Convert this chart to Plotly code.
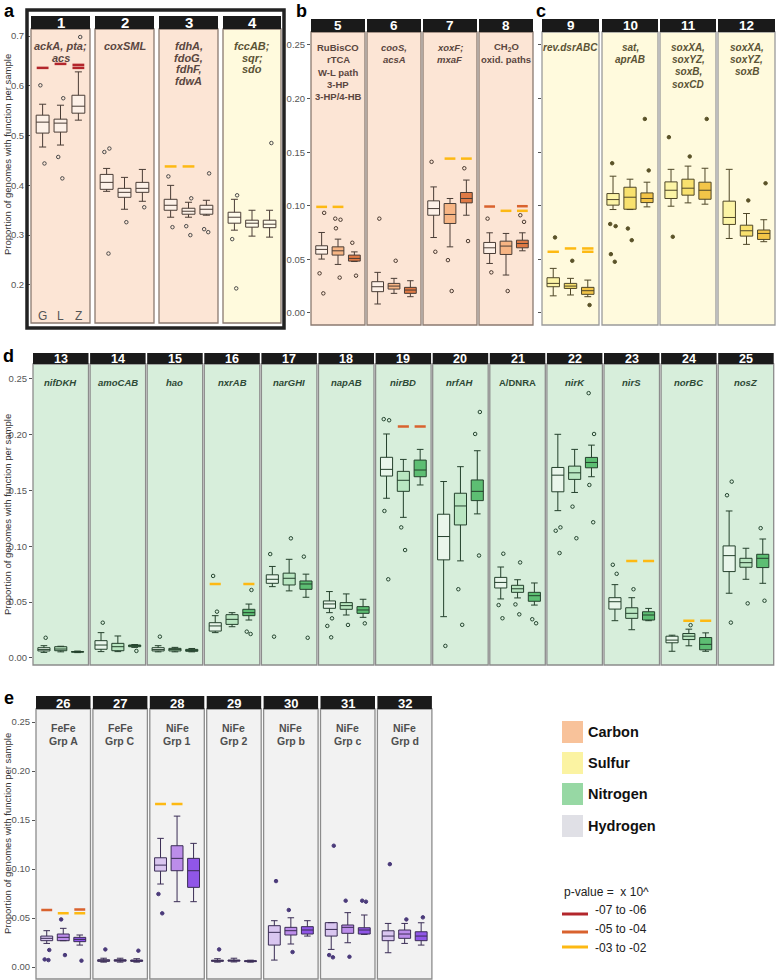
import plotly.graph_objects as go

# ------------------------------------------------------------------ data
panel_num = list(range(1, 33))
panel_label = [
    "ackA, pta;|acs", "coxSML", "fdhA,|fdoG,|fdhF,|fdwA", "fccAB;|sqr;|sdo",
    "RuBisCO|rTCA|W-L path|3-HP|3-HP/4-HB", "cooS,|acsA", "xoxF;|mxaF", "CH<sub>2</sub>O|oxid. paths",
    "rev.dsrABC", "sat,|aprAB", "soxXA,|soxYZ,|soxB,|soxCD", "soxXA,|soxYZ,|soxB",
    "nifDKH", "amoCAB", "hao", "nxrAB", "narGHI", "napAB", "nirBD", "nrfAH", "A/DNRA",
    "nirK", "nirS", "norBC", "nosZ",
    "FeFe|Grp A", "FeFe|Grp C", "NiFe|Grp 1", "NiFe|Grp 2", "NiFe|Grp b", "NiFe|Grp c", "NiFe|Grp d",
]
panel_italic = [True, True, True, True, False, True, True, False,
                True, True, True, True,
                True, True, True, True, True, True, True, True, False, True, True, True, True,
                False, False, False, False, False, False, False]
panel_cycle = (["Carbon"] * 3 + ["Sulfur"] + ["Carbon"] * 4 + ["Sulfur"] * 4
               + ["Nitrogen"] * 13 + ["Hydrogen"] * 7)
sites = ["G", "L", "Z"]

G_q1 = [0.505, 0.392, 0.350, 0.324, 0.0549, 0.0199, 0.0912, 0.0555, 0.0245, 0.1006, 0.1068, 0.0826,
        0.0063, 0.0078, 0.0063, 0.0241, 0.0669, 0.0445, 0.163, 0.0879, 0.0627, 0.1489, 0.0438, 0.0136, 0.0774,
        0.0269, 0.0058, 0.0979, 0.0058, 0.0224, 0.0316, 0.0269]
G_med = [0.527, 0.406, 0.360, 0.336, 0.0593, 0.0245, 0.0974, 0.0608, 0.0276, 0.1058, 0.1145, 0.0891,
         0.0075, 0.0116, 0.0075, 0.0287, 0.0705, 0.0484, 0.169, 0.1088, 0.0677, 0.1638, 0.0504, 0.016, 0.0917,
         0.0293, 0.0065, 0.104, 0.0065, 0.0354, 0.0384, 0.0316]
G_q3 = [0.541, 0.422, 0.372, 0.346, 0.0627, 0.0292, 0.1046, 0.0658, 0.0329, 0.1114, 0.1223, 0.1043,
        0.0092, 0.0155, 0.0092, 0.0316, 0.0745, 0.0511, 0.1798, 0.1288, 0.0722, 0.1707, 0.054, 0.0195, 0.1004,
        0.0316, 0.0075, 0.1115, 0.007, 0.0422, 0.0453, 0.037]
G_lo = [0.477, 0.388, 0.336, 0.310, 0.0503, 0.0084, 0.0704, 0.0462, 0.016, 0.0965, 0.0996, 0.0695,
        0.005, 0.0057, 0.0055, 0.0227, 0.0639, 0.0406, 0.1431, 0.037, 0.0529, 0.132, 0.0334, 0.006, 0.058,
        0.0241, 0.005, 0.0847, 0.005, 0.0071, 0.018, 0.0146]
G_hi = [0.563, 0.434, 0.400, 0.372, 0.0751, 0.0379, 0.1176, 0.0748, 0.0416, 0.1276, 0.134, 0.134,
        0.011, 0.0227, 0.011, 0.0379, 0.082, 0.0595, 0.2007, 0.1581, 0.0815, 0.2004, 0.0657, 0.0204, 0.1317,
        0.0371, 0.009, 0.1313, 0.0085, 0.0473, 0.0453, 0.0445]

L_q1 = [0.507, 0.376, 0.342, 0.316, 0.054, 0.0223, 0.0835, 0.0546, 0.0229, 0.0968, 0.1099, 0.0717,
        0.0065, 0.0065, 0.0063, 0.0301, 0.0654, 0.0436, 0.1493, 0.1192, 0.0588, 0.16, 0.0355, 0.0165, 0.0813,
        0.0269, 0.006, 0.0983, 0.006, 0.0327, 0.0344, 0.0293]
L_med = [0.525, 0.386, 0.348, 0.324, 0.058, 0.0251, 0.0919, 0.0624, 0.0251, 0.108, 0.1164, 0.0767,
         0.008, 0.0101, 0.0075, 0.0346, 0.0714, 0.0469, 0.1592, 0.1362, 0.062, 0.1659, 0.04, 0.0195, 0.0854,
         0.0303, 0.0066, 0.1109, 0.0066, 0.0371, 0.0405, 0.0337]
L_q3 = [0.533, 0.394, 0.354, 0.330, 0.0617, 0.0276, 0.1021, 0.067, 0.0276, 0.1173, 0.1248, 0.0819,
        0.0101, 0.0131, 0.0086, 0.0388, 0.076, 0.0496, 0.1672, 0.1476, 0.0651, 0.1719, 0.045, 0.0219, 0.0893,
        0.0337, 0.0075, 0.1238, 0.0072, 0.0405, 0.0429, 0.0378]
L_lo = [0.481, 0.352, 0.336, 0.298, 0.0453, 0.0183, 0.0617, 0.0354, 0.0168, 0.0965, 0.1027, 0.064,
        0.0055, 0.0057, 0.0055, 0.028, 0.0601, 0.0385, 0.126, 0.087, 0.0538, 0.1483, 0.0253, 0.0109, 0.0705,
        0.0269, 0.005, 0.0667, 0.0052, 0.0235, 0.0248, 0.0241]
L_hi = [0.561, 0.416, 0.366, 0.350, 0.0689, 0.0323, 0.1068, 0.0742, 0.0323, 0.1248, 0.137, 0.0928,
        0.0105, 0.0197, 0.0095, 0.0406, 0.0884, 0.0574, 0.1779, 0.1714, 0.0701, 0.1869, 0.054, 0.0258, 0.0983,
        0.0395, 0.009, 0.154, 0.009, 0.0503, 0.0555, 0.0445]

Z_q1 = [0.545, 0.386, 0.342, 0.315, 0.0484, 0.0183, 0.1027, 0.0608, 0.0174, 0.103, 0.1061, 0.0686,
        0.0052, 0.0101, 0.006, 0.0379, 0.0615, 0.04, 0.1624, 0.141, 0.0508, 0.1704, 0.034, 0.0073, 0.081,
        0.0259, 0.0058, 0.0813, 0.0055, 0.0337, 0.0337, 0.0269]
Z_med = [0.559, 0.394, 0.352, 0.322, 0.0509, 0.0214, 0.1068, 0.0648, 0.0208, 0.1068, 0.1145, 0.0742,
         0.0055, 0.011, 0.0068, 0.0406, 0.0663, 0.043, 0.1684, 0.1493, 0.0558, 0.1752, 0.0385, 0.0122, 0.0893,
         0.0282, 0.0064, 0.0983, 0.006, 0.0378, 0.0378, 0.0316]
Z_q3 = [0.581, 0.406, 0.360, 0.330, 0.054, 0.0239, 0.1124, 0.0679, 0.0239, 0.112, 0.122, 0.0774,
        0.0058, 0.0116, 0.0077, 0.0436, 0.069, 0.046, 0.1773, 0.1595, 0.0588, 0.1797, 0.0414, 0.0183, 0.0929,
        0.0303, 0.0072, 0.1109, 0.0065, 0.0412, 0.0401, 0.036]
Z_lo = [0.531, 0.368, 0.340, 0.296, 0.048, 0.0152, 0.0912, 0.058, 0.0152, 0.099, 0.1015, 0.0665,
        0.0048, 0.0095, 0.0055, 0.034, 0.0544, 0.0364, 0.155, 0.1291, 0.0474, 0.1624, 0.0334, 0.006, 0.0669,
        0.0224, 0.005, 0.0667, 0.005, 0.0316, 0.0333, 0.0224]
Z_hi = [0.628, 0.432, 0.370, 0.350, 0.057, 0.0301, 0.124, 0.0748, 0.0307, 0.122, 0.135, 0.087,
        0.0062, 0.012, 0.0085, 0.0483, 0.0751, 0.0526, 0.1869, 0.1857, 0.0672, 0.1907, 0.0444, 0.0225, 0.1066,
        0.0327, 0.0085, 0.1262, 0.007, 0.0473, 0.0531, 0.0452]

G_out = [[0.601, 0.444], [0.467, 0.474, 0.263], [0.418, 0.316], [0.380, 0.292, 0.193],
         [0.0934, 0.037, 0.0183], [0.088], [0.141, 0.0571], [0.088, 0.0379],
         [0.0705], [0.1397, 0.083, 0.081, 0.0549, 0.0478], [0.164, 0.0711], [],
         [0.0181], [0.0316], [0.0191], [0.0735, 0.0415], [0.0931, 0.0191], [0.0355, 0.0287, 0.0185],
         [0.214, 0.213, 0.1317, 0.0705], [0.0108], [0.0934, 0.0474, 0.0356], [0.117, 0.114, 0.094],
         [0.0835, 0.0754], [], [0.158, 0.1458, 0.0317],
         [0.0174, 0.0078, 0.0071], [0.018], [0.0745, 0.0548], [0.018], [0.0877], [0.1238, 0.0122, 0.0099], [0.105]]
L_out = [[0.575, 0.457, 0.414], [0.326], [0.374, 0.318, 0.300], [],
         [0.088, 0.087, 0.079, 0.033], [0.0487], [0.0493, 0.0205], [0.0205],
         [0.0487], [0.0788, 0.0679], [0.146], [0.105],
         [], [], [], [], [0.1072], [0.0296],
         [0.117, 0.0967], [0.0616, 0.0297], [0.0856, 0.048, 0.0391], [0.1356, 0.1073],
         [0.0616], [0.0294], [0.0489],
         [0.0486, 0.0122], [], [], [], [0.0582, 0.0153], [0.0677, 0.0105], [0.0486]]
Z_out = [[0.698], [0.356], [0.424, 0.312, 0.306], [0.485],
         [0.0655, 0.0348], [], [0.135, 0.0671], [0.0912, 0.085],
         [0.0074], [0.181, 0.133], [0.181], [0.121],
         [], [0.0063], [], [0.0609, 0.0236, 0.0215], [0.0908, 0.0181], [0.031],
         [], [0.2204, 0.2007, 0.0918], [0.0347, 0.0311], [0.2373, 0.2007, 0.155, 0.1216],
         [], [], [0.1163, 0.0513],
         [0.0065], [0.0167], [], [], [], [0.0677, 0.0667], [0.0507]]

# significance bars (panel, site, value, p-value class)
sig_panel = [1, 1, 1, 1, 3, 3, 5, 5, 7, 7, 8, 8, 8, 8, 9, 9, 9, 9,
             16, 16, 19, 19, 23, 23, 24, 24, 26, 26, 26, 26, 28, 28]
sig_site = ["G", "L", "Z", "Z", "G", "L", "G", "L", "L", "Z", "G", "L", "Z", "Z", "G", "L", "Z", "Z",
            "G", "Z", "L", "Z", "L", "Z", "L", "Z", "G", "L", "Z", "Z", "G", "L"]
sig_value = [0.636, 0.644, 0.642, 0.636, 0.438, 0.438, 0.099, 0.099, 0.144, 0.144,
             0.0993, 0.0953, 0.0996, 0.0953, 0.0571, 0.0602, 0.0602, 0.0571,
             0.0663, 0.0663, 0.2073, 0.2073, 0.0869, 0.0869, 0.0334, 0.0334,
             0.0582, 0.0548, 0.0588, 0.0548, 0.1663, 0.1663]
sig_level = ["-07 to -06"] * 4 + ["-03 to -02"] * 6 + ["-05 to -04", "-03 to -02", "-05 to -04", "-03 to -02"] \
    + ["-03 to -02"] * 6 + ["-05 to -04"] * 2 + ["-03 to -02"] * 4 \
    + ["-05 to -04", "-03 to -02", "-05 to -04", "-03 to -02"] + ["-03 to -02"] * 2
p_levels = ["-07 to -06", "-05 to -04", "-03 to -02"]
cycles = ["Carbon", "Sulfur", "Nitrogen", "Hydrogen"]

# ------------------------------------------------------------------ styles
W, H = 777, 980
FONT = "Liberation Sans, Arial, sans-serif"
def fx(x): return x / W
def fy(y): return 1 - y / H

p_colors = {"-07 to -06": "#B3262C", "-05 to -04": "#D9622E", "-03 to -02": "#FDB913"}
bg_colors = {"Carbon": "#FCE5D5", "Sulfur": "#FFFADD", "Nitrogen": "#D7EEDB", "Hydrogen": "#F2F2F2"}
swatch = {"Carbon": "#F8C29A", "Sulfur": "#FBF3A2", "Nitrogen": "#97D8A4", "Hydrogen": "#E0E0E6"}
label_col = {"Carbon": "#5a4640", "Sulfur": "#5b5335", "Nitrogen": "#2e4a36", "Hydrogen": "#4f4f4f"}

geom = []  # x0, x1, ytop, ybot, striptop, row
for a, b in [(31, 90), (95, 154), (159, 218), (223, 281)]:
    geom.append((a, b, 29, 323, 16, "a"))
for a, b in [(311, 365), (367, 421), (423, 477), (479, 533)]:
    geom.append((a, b, 32, 325, 19, "b"))
for a, b in [(542, 599), (602, 658), (660, 716), (718, 775)]:
    geom.append((a, b, 32, 325, 19, "c"))
for k in range(13):
    x0 = 33 + 57.1 * k
    geom.append((x0, x0 + 55.5, 364, 665, 353, "d"))
for k in range(7):
    x0 = 36 + 56.9 * k
    geom.append((x0, x0 + 54.5, 709, 979, 696, "e"))

yrange = {"a": [0.1235, 0.7141], "b": [-0.0112, 0.2621], "c": [-0.0112, 0.2621],
          "d": [-0.0063, 0.2634], "e": [-0.0122, 0.2633]}
first_in_row = {1: "a", 5: "b", 9: "c", 13: "d", 26: "e"}
fills = {
    "a": ["rgba(255,255,255,0.45)"] * 3,
    "b": ["rgba(255,255,255,0.45)", "#F7B584", "#E07A45"],
    "c": ["#FCF4A6", "#F8E16E", "#F3C548"],
    "d": ["rgba(255,255,255,0.45)", "#B9E6C1", "#5DBE73"],
    "e": ["#D9C6F0", "#BC8DEA", "#9056E8"],
}
line_col = {"a": "#4a3d36", "b": "#4a3d36", "c": "#4f4728", "d": "#24402c", "e": "#3a2d55"}
pt_style = {"a": ("circle-open", "#4a4a4a"), "b": ("circle-open", "#4a3a30"), "c": ("circle", "#5a5228"),
            "d": ("circle-open", "#254530"), "e": ("circle", "#4a3a7a")}
border_col = {"a": "#8a7a70", "b": "#8a7a70", "c": "#9a9a9a", "d": "#8c8c8c", "e": "#8c8c8c"}
label_first = {"a": 46, "b": 47, "c": 47, "d": 382, "e": 728}
label_step = {"a": 11.7, "b": 12.5, "c": 12.4, "d": 12.5, "e": 13}
label_size = {"a": 11, "b": 9.5, "c": 10, "d": 9.5, "e": 10.5}
strip_size = {"a": 15, "b": 13.5, "c": 13.5, "d": 12.5, "e": 13}

stats = {"G": (G_q1, G_med, G_q3, G_lo, G_hi, G_out),
         "L": (L_q1, L_med, L_q3, L_lo, L_hi, L_out),
         "Z": (Z_q1, Z_med, Z_q3, Z_lo, Z_hi, Z_out)}

fig = go.Figure()
shapes, annotations = [], []
layout_axes = {}

for i, pn in enumerate(panel_num):
    x0, x1, yt, yb, st, row = geom[i]
    sfx = "" if pn == 1 else str(pn)
    xa, ya = "x" + sfx, "y" + sfx
    layout_axes["xaxis" + sfx] = dict(domain=[fx(x0), fx(x1)], range=[0.35, 3.65], anchor=ya,
                                      showticklabels=False, showgrid=False, zeroline=False,
                                      ticks="", showline=False, fixedrange=True)
    yax = dict(domain=[fy(yb), fy(yt)], range=yrange[row], anchor=xa, showgrid=False,
               zeroline=False, showline=False, fixedrange=True)
    if pn in first_in_row:
        if row == "a":
            tv = [0.2, 0.3, 0.4, 0.5, 0.6, 0.7]
            tt = ["0.2", "0.3", "0.4", "0.5", "0.6", "0.7"]
        else:
            tv = [0, 0.05, 0.10, 0.15, 0.20, 0.25]
            tt = ["0.00", "0.05", "0.10", "0.15", "0.20", "0.25"]
        yax.update(tickvals=tv, ticktext=tt, ticks="outside",
                   ticklen=4 if row == "a" else 3, tickcolor="#555", tickwidth=1,
                   showticklabels=(row != "c"),
                   tickfont=dict(family=FONT, size=9.5, color="#555"))
    else:
        yax.update(showticklabels=False, ticks="")
    layout_axes["yaxis" + sfx] = yax

    cyc = panel_cycle[i]
    # panel background + border
    shapes.append(dict(type="rect", xref="paper", yref="paper", x0=fx(x0), x1=fx(x1), y0=fy(yb), y1=fy(yt),
                       fillcolor=bg_colors[cyc], line=dict(width=0), layer="below"))
    shapes.append(dict(type="rect", xref="paper", yref="paper", x0=fx(x0), x1=fx(x1), y0=fy(yb), y1=fy(yt),
                       fillcolor="rgba(0,0,0,0)", line=dict(width=1.3, color=border_col[row]), layer="above"))
    # strip
    shapes.append(dict(type="rect", xref="paper", yref="paper", x0=fx(x0), x1=fx(x1), y0=fy(yt), y1=fy(st),
                       fillcolor="#1a1a1a", line=dict(width=0), layer="above"))
    annotations.append(dict(x=fx((x0 + x1) / 2), y=fy((yt + st) / 2 + 0.5), xref="paper", yref="paper",
                            text="<b>%d</b>" % pn, showarrow=False, xanchor="center", yanchor="middle",
                            font=dict(family=FONT, size=strip_size[row], color="white")))
    # gene labels
    for j, line in enumerate(panel_label[i].split("|")):
        txt = "<b><i>%s</i></b>" % line if panel_italic[i] else "<b>%s</b>" % line
        annotations.append(dict(x=fx((x0 + x1) / 2), y=fy(label_first[row] + j * label_step[row]),
                                xref="paper", yref="paper", text=txt, showarrow=False,
                                xanchor="center", yanchor="middle",
                                font=dict(family=FONT, size=label_size[row], color=label_col[cyc])))

    # boxes
    sym, pcol = pt_style[row]
    for k, s in enumerate(sites):
        q1, med, q3, lo, hi, outs = stats[s]
        fig.add_trace(go.Box(x=[k + 1], q1=[q1[i]], median=[med[i]], q3=[q3[i]],
                             lowerfence=[lo[i]], upperfence=[hi[i]], width=0.72, whiskerwidth=0.55,
                             fillcolor=fills[row][k], line=dict(color=line_col[row], width=1),
                             boxpoints=False, xaxis=xa, yaxis=ya, showlegend=False, hoverinfo="skip"))
        if outs[i]:
            fig.add_trace(go.Box(x=[k + 1] * len(outs[i]), y=outs[i], boxpoints="all", jitter=0.55,
                                 pointpos=0, width=0.72, fillcolor="rgba(0,0,0,0)",
                                 line=dict(width=0, color="rgba(0,0,0,0)"),
                                 marker=dict(symbol=sym, size=3.5, color=pcol,
                                             line=dict(width=1, color=pcol)),
                                 xaxis=xa, yaxis=ya, showlegend=False, hoverinfo="skip"))

# significance bars
for pn, s, v, lev in zip(sig_panel, sig_site, sig_value, sig_level):
    sfx = "" if pn == 1 else str(pn)
    c = sites.index(s) + 1
    fig.add_trace(go.Scatter(x=[c - 0.33, c + 0.33], y=[v, v], mode="lines",
                             line=dict(color=p_colors[lev], width=2.5),
                             xaxis="x" + sfx, yaxis="y" + sfx, showlegend=False, hoverinfo="skip"))

# G L Z labels in panel 1
for k, s in enumerate(sites):
    annotations.append(dict(x=k + 1, xref="x", y=fy(307), yref="paper", text=s, showarrow=False,
                            font=dict(family=FONT, size=12, color="#555")))

# panel a thick frame
shapes.append(dict(type="rect", xref="paper", yref="paper", x0=fx(27), x1=fx(284), y0=fy(328), y1=fy(10),
                   line=dict(width=3.5, color="#222"), fillcolor="rgba(0,0,0,0)", layer="above"))

# panel letters
for letter, xl, yc in [("a", 2, 11), ("b", 294, 11), ("c", 534, 11), ("d", 1, 356), ("e", 2, 698)]:
    annotations.append(dict(x=fx(xl), y=fy(yc), xref="paper", yref="paper", text="<b>%s</b>" % letter,
                            showarrow=False, xanchor="left", yanchor="middle",
                            font=dict(family=FONT, size=18, color="black")))

# y titles
for yc in [155, 515, 834]:
    annotations.append(dict(x=fx(7), y=fy(yc), xref="paper", yref="paper",
                            text="Proportion of genomes with function per sample", textangle=-90,
                            showarrow=False, xanchor="center", yanchor="middle",
                            font=dict(family=FONT, size=9.5, color="#333")))

# legend: cycles
for cyc, (yt, yb) in zip(cycles, [(721, 743), (752, 774), (783, 805), (815, 837)]):
    shapes.append(dict(type="rect", xref="paper", yref="paper", x0=fx(562), x1=fx(583), y0=fy(yb), y1=fy(yt),
                       fillcolor=swatch[cyc], line=dict(width=0)))
    annotations.append(dict(x=fx(586), y=fy((yt + yb) / 2), xref="paper", yref="paper",
                            text="<b>%s</b>" % cyc, showarrow=False, xanchor="left", yanchor="middle",
                            font=dict(family=FONT, size=14.5, color="#111")))

# legend: p-values
annotations.append(dict(x=fx(562), y=fy(892), xref="paper", yref="paper", text="p-value =  x 10^",
                        showarrow=False, xanchor="left", yanchor="middle",
                        font=dict(family=FONT, size=12, color="#222")))
for lev, yl, yt in zip(p_levels, [914, 932, 947], [910, 929, 948]):
    shapes.append(dict(type="line", xref="paper", yref="paper", x0=fx(562), x1=fx(588), y0=fy(yl), y1=fy(yl),
                       line=dict(color=p_colors[lev], width=3)))
    annotations.append(dict(x=fx(593), y=fy(yt), xref="paper", yref="paper", text=lev,
                            showarrow=False, xanchor="left", yanchor="middle",
                            font=dict(family=FONT, size=12, color="#222")))

fig.update_layout(width=W, height=H, margin=dict(l=0, r=0, t=0, b=0),
                  paper_bgcolor="white", plot_bgcolor="rgba(0,0,0,0)",
                  showlegend=False, boxmode="overlay",
                  shapes=shapes, annotations=annotations, **layout_axes)
fig.write_html("out.html", config={"displayModeBar": False},
               post_script="document.body.style.margin='0';document.body.style.overflow='hidden';")
